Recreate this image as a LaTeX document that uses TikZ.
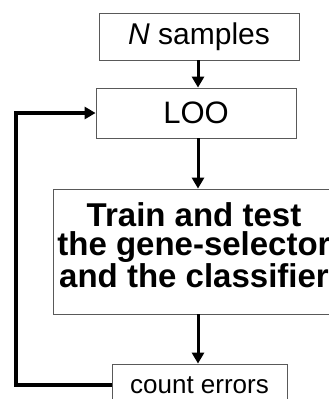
\documentclass[tikz,border=0pt]{standalone}
\usepackage{fontspec}
\setmainfont{Liberation Sans}
\usetikzlibrary{arrows.meta,positioning,calc}

\begin{document}
\begin{tikzpicture}[x=1pt,y=-1pt,>={Triangle[length=11pt,width=12pt]},
 box/.style={draw=black!65,line width=.8pt,inner sep=0pt,align=center},
 flow/.style={->,line width=3pt}]
 \path[use as bounding box,clip] (0,0) rectangle (329,399);
 \node[box,minimum width=200,minimum height=47,font=\fontsize{30}{34}\selectfont] (samples) at (199,36.5)
  {\textit{N} samples};
 \node[box,minimum width=200,minimum height=50,font=\fontsize{31}{34}\selectfont] (loo) at (196,113)
  {LOO};
 \node[box,minimum width=282,minimum height=125,font=\fontsize{33}{29}\selectfont\bfseries] (train) at (194,251.5)
  {Train and test\\the gene-selector\\and the classifier\\[-16pt]};
 \node[box,minimum width=175,minimum height=42,font=\fontsize{26}{30}\selectfont] (count) at (199.5,385)
  {count errors};
 \coordinate (spine) at (198,0);
 \coordinate (back) at (16,0);
 \draw[flow] (samples.south -| spine)--(loo.north -| spine);
 \draw[flow] (loo.south -| spine)--(train.north -| spine);
 \draw[flow] (train.south -| spine)--(count.north -| spine);
 \draw[->,line width=3.8pt] (count.west)--(count.west -| back)--(loo.west -| back)--(loo.west);
\end{tikzpicture}
\end{document}
